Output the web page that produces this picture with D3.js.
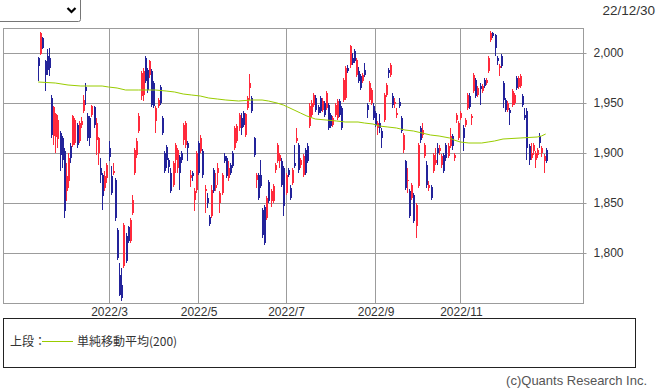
<!DOCTYPE html>
<html>
<head>
<meta charset="utf-8">
<script src="https://cdn.jsdelivr.net/npm/d3@7"></script>
<style>
  body { margin: 0; background: #fff; }
  svg { display: block; font-family: "Liberation Sans", Arial, sans-serif; }
</style>
</head>
<body>
<svg width="658" height="389"></svg>
<script>
// daily candles [open, high, low, close], index 0 = first trading day shown
const candles = [
  [1995,1996,1972,1987],[1999,2021,1998,2020],[2015,2016,2004,2005],[1992,1993,1962,1978],[1997,2004,1978,1983],
  [1995,2005,1977,1985],[1955,1958,1915,1918],[1917,1947,1908,1946],[1916,1940,1900,1939],[1914,1938,1905,1933],
  [1920,1922,1882,1898],[1915,1917,1885,1893],[1902,1905,1835,1842],[1862,1890,1852,1877],[1872,1900,1865,1895],
  [1907,1910,1890,1895],[1908,1938,1906,1937],[1910,1935,1908,1933],[1928,1930,1905,1908],[1912,1932,1910,1930],
  [1928,1936,1925,1932],[1942,1958,1940,1953],[1966,1970,1948,1962],[1937,1940,1912,1915],[1935,1937,1907,1915],
  [1938,1948,1936,1947],[1946,1947,1925,1928],[1913,1935,1898,1930],[1900,1916,1888,1915],[1885,1895,1870,1878],
  [1878,1880,1843,1857],[1865,1882,1862,1877],[1875,1890,1870,1888],[1905,1912,1892,1896],[1877,1887,1858,1860],
  [1880,1890,1878,1882],[1873,1875,1832,1835],[1823,1825,1793,1795],[1778,1790,1757,1758],[1768,1785,1752,1755],
  [1787,1830,1785,1828],[1817,1820,1790,1792],[1826,1827,1810,1812],[1812,1835,1810,1833],[1840,1858,1838,1853],
  [1880,1905,1878,1903],[1898,1915,1895,1912],[1922,1940,1920,1937],[1957,1982,1953,1980],[1958,1985,1952,1982],
  [1995,1997,1970,1972],[1983,1985,1960,1963],[1978,1993,1975,1992],[1982,1984,1946,1948],[1970,1972,1945,1947],
  [1932,1947,1920,1945],[1947,1955,1945,1953],[1966,1968,1948,1950],[1935,1937,1918,1920],[1900,1902,1880,1882],
  [1906,1908,1885,1893],[1893,1895,1880,1886],[1880,1885,1860,1862],[1868,1892,1866,1890],[1893,1910,1880,1908],
  [1885,1905,1880,1903],[1896,1898,1863,1880],[1900,1902,1890,1893],[1913,1930,1908,1928],[1908,1932,1905,1930],
  [1910,1912,1892,1905],[1875,1883,1866,1878],[1880,1882,1872,1877],[1853,1865,1842,1862],[1863,1902,1860,1900],
  [1910,1912,1878,1880],[1902,1918,1900,1915],[1902,1904,1875,1878],[1862,1868,1840,1864],[1855,1860,1845,1850],
  [1836,1838,1827,1829],[1837,1868,1835,1863],[1883,1885,1860,1862],[1865,1880,1862,1868],[1880,1890,1868,1885],
  [1850,1862,1840,1860],[1860,1880,1858,1878],[1897,1900,1890,1892],[1895,1897,1875,1877],[1875,1892,1872,1885],
  [1888,1890,1878,1880],[1900,1902,1885,1887],[1905,1927,1903,1925],[1912,1929,1910,1927],[1925,1940,1922,1938],
  [1935,1940,1918,1925],[1940,1942,1926,1928],[1918,1940,1916,1939],[1945,1957,1943,1955],[1965,1979,1953,1970],
  [1955,1957,1940,1942],[1915,1916,1896,1898],[1873,1880,1865,1878],[1878,1880,1853,1855],[1878,1893,1865,1867],
  [1843,1845,1815,1818],[1846,1848,1808,1810],[1835,1857,1833,1855],[1871,1873,1850,1852],[1852,1864,1846,1862],
  [1852,1869,1850,1867],[1883,1890,1880,1888],[1892,1910,1890,1908],[1892,1900,1885,1898],[1892,1895,1866,1868],
  [1885,1887,1837,1847],[1860,1880,1858,1878],[1883,1885,1876,1878],[1865,1868,1853,1855],[1870,1885,1868,1883],
  [1890,1908,1885,1887],[1912,1925,1910,1915],[1908,1910,1880,1883],[1888,1895,1885,1893],[1878,1899,1876,1897],
  [1903,1905,1878,1880],[1907,1910,1890,1892],[1927,1950,1925,1947],[1938,1953,1936,1950],[1948,1960,1946,1958],
  [1955,1958,1941,1943],[1946,1948,1938,1940],[1955,1957,1940,1942],[1943,1955,1941,1952],[1950,1952,1936,1938],
  [1945,1962,1943,1960],[1948,1950,1923,1925],[1938,1940,1925,1927],[1928,1937,1926,1935],[1938,1950,1936,1948],
  [1935,1954,1933,1952],[1952,1954,1936,1938],[1945,1947,1923,1925],[1953,1975,1951,1973],[1955,1987,1953,1985],
  [1985,1988,1980,1982],[1988,2008,1985,2007],[1995,2000,1988,1990],[2002,2004,1990,1992],[1978,1995,1976,1993],
  [1982,1986,1970,1972],[1977,1979,1963,1965],[1972,1980,1970,1978],[1983,1990,1976,1978],[1948,1950,1935,1943],
  [1953,1972,1951,1970],[1950,1965,1948,1963],[1947,1950,1933,1935],[1940,1942,1926,1928],[1925,1932,1918,1930],
  [1930,1939,1920,1925],[1922,1925,1905,1915],[1933,1960,1931,1958],[1958,1970,1956,1968],[1983,1985,1975,1980],
  [1978,1990,1976,1988],[1957,1960,1945,1948],[1949,1955,1945,1951],[1938,1945,1935,1940],[1951,1955,1945,1947],
  [1935,1937,1920,1922],[1903,1920,1900,1918],[1892,1893,1863,1865],[1872,1885,1860,1873],[1862,1864,1835,1837],
  [1855,1870,1853,1868],[1858,1860,1830,1832],[1827,1850,1815,1848],[1867,1910,1865,1908],[1925,1927,1910,1913],
  [1918,1930,1915,1923],[1897,1910,1895,1908],[1888,1892,1865,1868],[1865,1872,1862,1868],[1866,1868,1853,1855],
  [1882,1900,1880,1898],[1890,1905,1888,1893],[1905,1910,1888,1900],[1902,1908,1898,1905],[1888,1899,1885,1897],
  [1898,1900,1880,1882],[1908,1910,1892,1895],[1897,1910,1895,1907],[1907,1925,1905,1917],[1917,1919,1903,1907],
  [1895,1900,1892,1898],[1933,1940,1930,1938],[1915,1932,1913,1930],[1935,1942,1933,1940],[1925,1928,1902,1915],
  [1928,1935,1926,1933],[1945,1960,1943,1958],[1957,1960,1944,1946],[1935,1939,1928,1937],[1962,1980,1960,1978],
  [1973,1975,1955,1957],[1958,1967,1956,1965],[1967,1970,1948,1964],[1962,1969,1960,1967],[1973,1975,1965,1967],
  [1970,1975,1968,1973],[1982,1997,1980,1995],[2013,2022,2011,2020],[2020,2021,2015,2017],[2018,2019,1997,2005],
  [1995,1997,1988,1992],[1985,1989,1977,1987],[1997,1999,1985,1987],[1970,1972,1945,1953],[1953,1955,1941,1943],
  [1943,1952,1941,1950],[1943,1945,1928,1940],[1948,1964,1946,1962],[1950,1960,1948,1958],[1975,1977,1963,1965],
  [1966,1977,1964,1975],[1967,1979,1965,1977],[1957,1959,1946,1948],[1938,1945,1933,1935],[1942,1945,1893,1905],
  [1907,1909,1888,1893],[1895,1910,1893,1900],[1902,1910,1898,1908],[1893,1902,1885,1900],[1898,1905,1895,1903],
  [1917,1920,1905,1910],[1900,1907,1896,1905],[1892,1899,1880,1897],[1903,1905,1890,1892]
];

// 200-day simple moving average, read at these candle indices
const maIdx = [0,8,14,20,30,33,37,41,47,55,60,64,68,72,76,80,84,88,94,100,105,108,112,115,117,120,123,126,130,135,140,144,150,153,157,160,164,168,172,176,180,184,188,193,195,198,202,208,211,214,218,226,234,236,238];
const maVal = [1971,1970,1968,1967,1967,1966,1965,1963,1963,1963,1962,1961,1959,1958,1957,1955,1954,1953,1952,1953,1953,1952,1950,1948,1946,1943,1940,1937,1934,1933,1932,1931,1931,1930,1929,1927,1926,1925,1923,1922,1920,1918,1917,1915,1913,1911,1910,1910,1911,1912,1914,1915,1916,1917,1919];

// month start positions (candle index) and labels
const monthIdx = [33, 75, 116, 158, 198];
const monthLabels = ["2022/3", "2022/5", "2022/7", "2022/9", "2022/11"];
const priceTicks = [1800, 1850, 1900, 1950, 2000];

const upColor = "#ff2a3c", downColor = "#23239a", maColor = "#99cc00", gridColor = "#9c9c9c";

const svg = d3.select("svg");
const plotL = 3, plotR = 583, plotT = 28, plotB = 303;

const x = d3.scaleLinear().domain([-16.5, 255.5]).range([plotL, plotR]);
const y = d3.scaleLinear().domain([1750, 2025]).range([plotB, plotT]);

svg.append("rect").attr("width", 658).attr("height", 389).attr("fill", "#fff");

// fake select box top-left
svg.append("rect")
  .attr("x", -3).attr("y", -3).attr("width", 83.5).attr("height", 24.5).attr("rx", 2)
  .attr("fill", "#fff").attr("stroke", "#767676");
svg.append("path")
  .attr("d", "M67.5,8 L71.5,12 L75.5,8")
  .attr("fill", "none").attr("stroke", "#000").attr("stroke-width", 2.2);

svg.append("text")
  .attr("x", 655).attr("y", 15).attr("text-anchor", "end")
  .attr("font-size", 13.5).attr("fill", "#333")
  .text("22/12/30");

// grid
const grid = svg.append("g").attr("stroke", gridColor).attr("stroke-width", 1);
grid.selectAll("line.h").data(priceTicks).enter().append("line")
  .attr("x1", plotL).attr("x2", plotR)
  .attr("y1", d => Math.round(y(d)) + 0.5).attr("y2", d => Math.round(y(d)) + 0.5);
grid.selectAll("line.v").data(monthIdx).enter().append("line")
  .attr("y1", plotT).attr("y2", plotB)
  .attr("x1", d => Math.round(x(d)) + 0.5).attr("x2", d => Math.round(x(d)) + 0.5);

svg.append("rect")
  .attr("x", plotL + 0.5).attr("y", plotT + 0.5)
  .attr("width", plotR - plotL).attr("height", plotB - plotT)
  .attr("fill", "none").attr("stroke", gridColor);

// candles
const cg = svg.append("g");
const c = cg.selectAll("g").data(candles).enter().append("g")
  .attr("fill", d => d[3] >= d[0] ? upColor : downColor)
  .attr("stroke", d => d[3] >= d[0] ? upColor : downColor);

c.append("line")
  .attr("x1", (d, i) => Math.round(x(i)) + 0.5).attr("x2", (d, i) => Math.round(x(i)) + 0.5)
  .attr("y1", d => y(d[1])).attr("y2", d => y(d[2]))
  .attr("stroke-width", 1);

c.append("rect")
  .attr("stroke", "none")
  .attr("x", (d, i) => Math.round(x(i)))
  .attr("width", 2)
  .attr("y", d => y(Math.max(d[0], d[3])))
  .attr("height", d => Math.max(1, Math.abs(y(d[0]) - y(d[3]))));

// moving average
const ma = maIdx.map((d, i) => [d, maVal[i]]);
svg.append("path")
  .datum(ma)
  .attr("fill", "none").attr("stroke", maColor).attr("stroke-width", 1)
  .attr("d", d3.line().x(d => x(d[0])).y(d => y(d[1])));

// right axis
const yAxis = svg.append("g")
  .attr("transform", `translate(${plotR + 0.5},0)`)
  .call(d3.axisRight(y).tickValues(priceTicks).tickSize(3).tickPadding(7).tickFormat(d3.format(",")));
yAxis.select(".domain").attr("stroke", gridColor).attr("d", `M0,${plotT}V${plotB + 1}`);
yAxis.selectAll(".tick line").attr("stroke", gridColor);
yAxis.selectAll("text").attr("font-size", 12).attr("fill", "#333")
  .attr("font-family", "Liberation Sans, Arial, sans-serif");

// bottom labels
svg.append("g").selectAll("text").data(monthIdx).enter().append("text")
  .attr("x", d => x(d) + 1).attr("y", 316)
  .attr("text-anchor", "middle").attr("font-size", 12).attr("fill", "#333")
  .text((d, i) => monthLabels[i]);

// legend
svg.append("rect")
  .attr("x", 3.5).attr("y", 318.5).attr("width", 632).attr("height", 49)
  .attr("fill", "none").attr("stroke", "#222");
svg.append("text")
  .attr("x", 10).attr("y", 346).attr("font-size", 12).attr("fill", "#333")
  .attr("font-family", "Noto Sans CJK JP, sans-serif")
  .text("上段：");
svg.append("line")
  .attr("x1", 42).attr("x2", 73).attr("y1", 341.5).attr("y2", 341.5)
  .attr("stroke", maColor);
svg.append("text")
  .attr("x", 77).attr("y", 346).attr("font-size", 12).attr("fill", "#333")
  .attr("font-family", "Noto Sans CJK JP, sans-serif")
  .text("単純移動平均(200)");

svg.append("text")
  .attr("x", 647).attr("y", 385).attr("text-anchor", "end")
  .attr("font-size", 13).attr("fill", "#555")
  .text("(c)Quants Research Inc.");
</script>
</body>
</html>
